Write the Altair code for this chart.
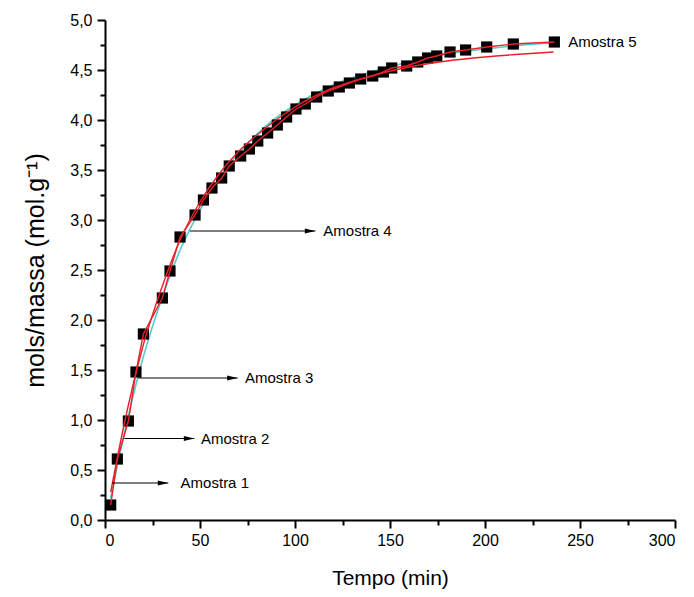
import altair as alt
import pandas as pd

# --- data ---
tempo = [3, 6.5, 12.3, 16.3, 20.2, 30.2, 34.2, 39.5, 47.4, 51.8, 56.3, 61.4, 65.4,
         71.4, 76, 80.4, 85.6, 90.7, 95.6, 100.5, 105.4, 111.4, 117.5, 123.3, 128.6,
         134.6, 140.9, 146.5, 150.9, 158.8, 164.6, 169.8, 174.6, 181.6, 189.8, 200.9,
         214.9, 236.5]
valores = [0.15, 0.61, 0.99, 1.48, 1.86, 2.22, 2.49, 2.83, 3.05, 3.20, 3.32, 3.42, 3.54,
           3.64, 3.71, 3.79, 3.87, 3.95, 4.03, 4.11, 4.16, 4.23, 4.29, 4.33, 4.37,
           4.41, 4.44, 4.48, 4.52, 4.54, 4.58, 4.62, 4.64, 4.68, 4.70, 4.73,
           4.76, 4.78]

fit_tempo = [3, 10, 20, 30, 40, 50, 60, 70, 80, 90, 100, 120, 140, 160, 180, 200, 220, 236]
fit_vermelho = [0.28, 0.95, 1.74, 2.33, 2.82, 3.18, 3.46, 3.68, 3.85, 4.00, 4.13, 4.32,
                4.44, 4.53, 4.59, 4.63, 4.66, 4.68]
fit_ciano = [0.22, 0.85, 1.62, 2.22, 2.72, 3.10, 3.42, 3.66, 3.86, 4.02, 4.15, 4.35,
             4.48, 4.58, 4.66, 4.71, 4.75, 4.77]

seta_inicio = [3.7, 10.2, 17.5, 44.7]
seta_fim = [33.3, 47.0, 69.8, 110.7]
seta_y = [0.37, 0.815, 1.42, 2.89]

textos = ["Amostra 1", "Amostra 2", "Amostra 3", "Amostra 4", "Amostra 5"]
texto_x = [39.8, 50.5, 73.7, 114.9, 243.8]
texto_y = [0.37, 0.815, 1.42, 2.89, 4.78]

x_major = [0, 50, 100, 150, 200, 250, 300]
x_minor = [25, 75, 125, 175, 225, 275]
y_major = [0, 0.5, 1, 1.5, 2, 2.5, 3, 3.5, 4, 4.5, 5]
y_minor = [0.25, 0.75, 1.25, 1.75, 2.25, 2.75, 3.25, 3.75, 4.25, 4.75]

FONT = "Liberation Sans"

pts = pd.DataFrame({"t": tempo, "v": valores})
fit_r = pd.DataFrame({"t": fit_tempo, "v": fit_vermelho})
fit_c = pd.DataFrame({"t": fit_tempo, "v": fit_ciano})
setas = pd.DataFrame({"x": seta_inicio, "x2": seta_fim, "y": seta_y})
rot = pd.DataFrame({"x": texto_x, "y": texto_y, "txt": textos})

xs = alt.Scale(domain=[0, 300], nice=False, zero=False)
ys = alt.Scale(domain=[0, 5], nice=False, zero=False)

lab_expr = "replace(format(datum.value, '.1f'), '.', ',')"

ax_x = alt.Axis(values=x_major, tickSize=8, tickWidth=2, tickColor="black",
                domainColor="black", domainWidth=2, grid=False,
                labelFont=FONT, labelFontSize=16, labelColor="black", labelPadding=4,
                title="Tempo (min)", titleFont=FONT, titleFontSize=21,
                titleFontWeight="normal", titleColor="black", titlePadding=19,
                orient="bottom")
ax_y = alt.Axis(values=y_major, tickSize=8, tickWidth=2, tickColor="black",
                domainColor="black", domainWidth=2, grid=False,
                labelFont=FONT, labelFontSize=16, labelColor="black", labelPadding=5,
                labelExpr=lab_expr,
                title="mols/massa (mol.g⁻¹)", titleFont=FONT, titleFontSize=25,
                titleFontWeight="normal", titleColor="black", titlePadding=21,
                orient="left")
ax_xm = alt.Axis(values=x_minor, tickSize=5, tickWidth=2, tickColor="black",
                 domain=False, labels=False, grid=False, title=None, orient="bottom")
ax_ym = alt.Axis(values=y_minor, tickSize=5, tickWidth=2, tickColor="black",
                 domain=False, labels=False, grid=False, title=None, orient="left")

ciano = alt.Chart(fit_c).mark_line(color="#52cccc", strokeWidth=1.6, interpolate="monotone").encode(
    x=alt.X("t:Q", scale=xs, axis=ax_xm),
    y=alt.Y("v:Q", scale=ys, axis=ax_ym),
)
quadrados = alt.Chart(pts).mark_point(shape="square", filled=True, color="black",
                                      size=125, opacity=1).encode(
    x=alt.X("t:Q", scale=xs, axis=ax_x),
    y=alt.Y("v:Q", scale=ys, axis=ax_y),
)
poli = alt.Chart(pts).mark_line(color="#e8202a", strokeWidth=1.4).encode(
    x=alt.X("t:Q", scale=xs, axis=None),
    y=alt.Y("v:Q", scale=ys, axis=None),
)
verm = alt.Chart(fit_r).mark_line(color="#e8202a", strokeWidth=1.4, interpolate="monotone").encode(
    x=alt.X("t:Q", scale=xs, axis=None),
    y=alt.Y("v:Q", scale=ys, axis=None),
)
regras = alt.Chart(setas).mark_rule(color="black", strokeWidth=1.2).encode(
    x=alt.X("x:Q", scale=xs, axis=None),
    x2="x2:Q",
    y=alt.Y("y:Q", scale=ys, axis=None),
)
pontas = alt.Chart(setas).mark_point(shape="M-2,-0.5L0,0L-2,0.5Z", filled=True,
                                     color="black", size=110, opacity=1).encode(
    x=alt.X("x2:Q", scale=xs, axis=None),
    y=alt.Y("y:Q", scale=ys, axis=None),
)
texto = alt.Chart(rot).mark_text(align="left", baseline="middle", font=FONT,
                                 fontSize=15, color="black").encode(
    x=alt.X("x:Q", scale=xs, axis=None),
    y=alt.Y("y:Q", scale=ys, axis=None),
    text="txt:N",
)

chart = alt.layer(ciano, quadrados, poli, verm, regras, pontas, texto).resolve_axis(
    x="independent", y="independent"
).properties(
    width=570, height=500,
    autosize=alt.AutoSizeParams(type="none"),
    padding={"left": 105, "top": 20, "right": 15, "bottom": 70},
    background="white",
).configure_view(stroke=None)

chart.save("out.html", embed_options={"renderer": "svg", "actions": False})
